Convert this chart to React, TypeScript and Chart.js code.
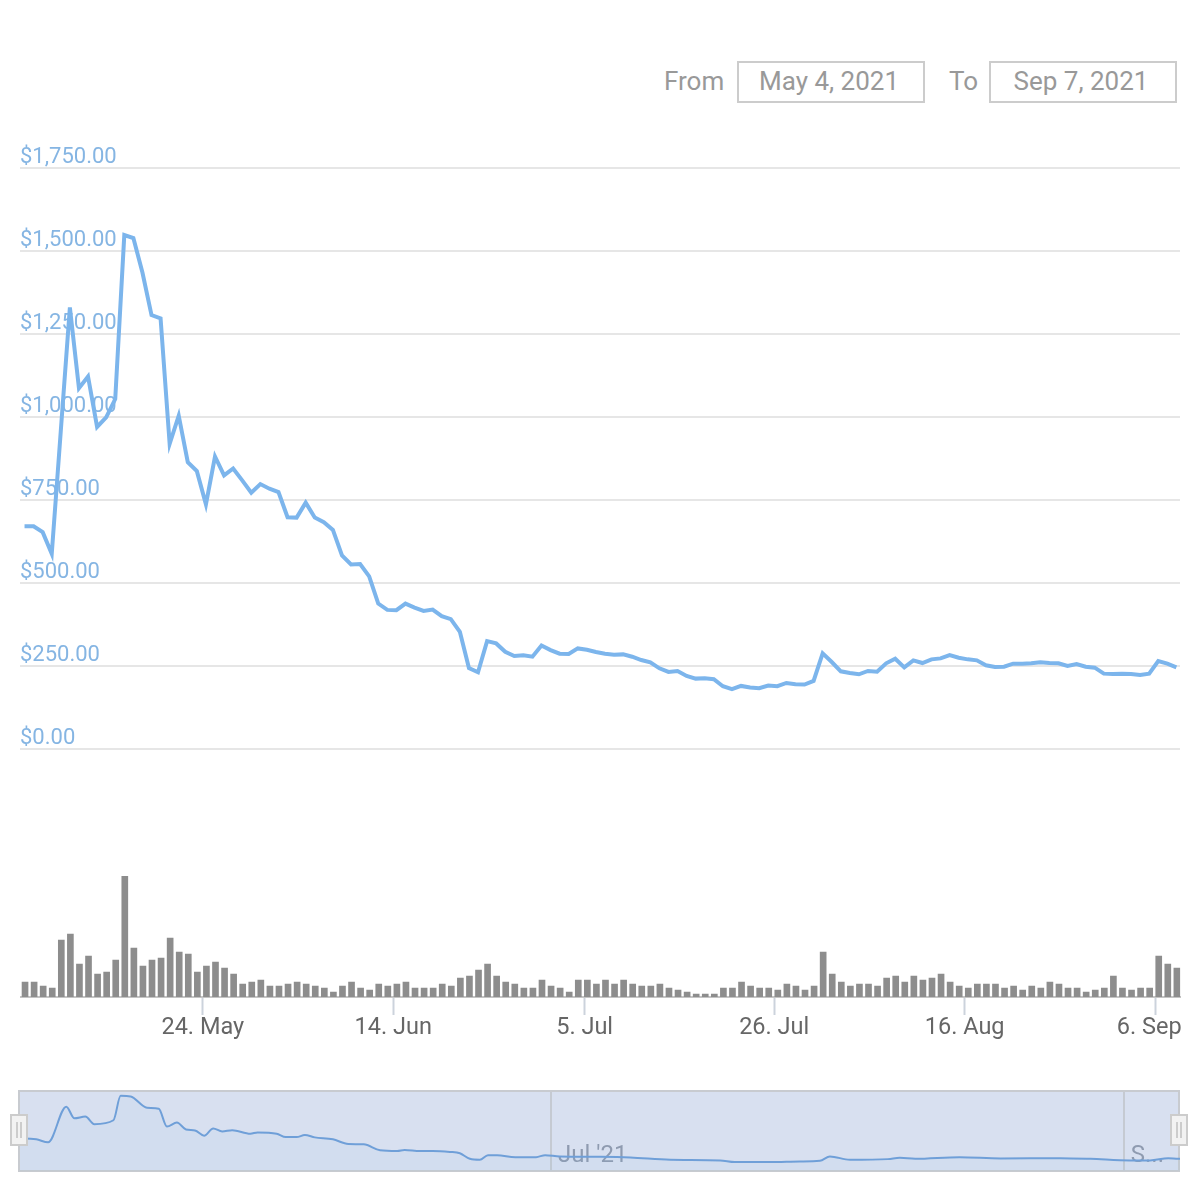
import { useEffect, useRef } from "react";
import { Chart, registerables } from "chart.js";

Chart.register(...registerables);

// daily price in USD
const prices = [
  671, 671, 653, 588, 959, 1330, 1087, 1122, 970, 999, 1054, 1548, 1539, 1435, 1307, 1297,
  919, 1004, 864, 837, 737, 881, 824, 845, 809, 772, 798, 784, 774, 698, 697, 742,
  697, 683, 660, 583, 556, 557, 520, 438, 419, 418, 438, 426, 416, 420, 400, 391,
  353, 244, 231, 325, 318, 293, 280, 282, 278, 312, 298, 287, 286, 303, 299, 292,
  287, 284, 285, 278, 268, 261, 243, 232, 235, 220, 212, 213, 210, 189, 180, 190,
  185, 183, 191, 189, 199, 195, 194, 205, 288, 262, 234, 229, 225, 235, 233, 258,
  272, 246, 267, 259, 270, 273, 283, 275, 270, 267, 252, 247, 248, 257, 257, 258,
  261, 259, 258, 250, 256, 248, 245, 227, 226, 227, 226, 223, 227, 265, 257, 246,
];

// volume has no axis in the picture, so these are relative units
const volumes = [
  15, 15, 11, 9, 57, 63, 33, 41, 23, 25, 37, 121, 49, 31, 37, 39,
  59, 45, 43, 25, 31, 35, 29, 23, 13, 15, 17, 11, 11, 13, 15, 13,
  11, 9, 5, 11, 15, 9, 7, 13, 11, 13, 15, 9, 9, 9, 13, 11,
  19, 21, 27, 33, 21, 15, 13, 9, 9, 17, 11, 9, 5, 17, 17, 13,
  17, 13, 17, 13, 11, 11, 13, 9, 7, 5, 3, 3, 3, 9, 9, 15,
  11, 9, 9, 7, 13, 11, 7, 11, 45, 23, 15, 11, 13, 13, 11, 19,
  21, 15, 21, 17, 19, 23, 15, 11, 9, 13, 13, 13, 9, 11, 7, 11,
  9, 15, 13, 9, 9, 5, 7, 9, 21, 9, 7, 9, 9, 41, 33, 29,
];

const priceTicks = [0, 250, 500, 750, 1000, 1250, 1500, 1750];

const dateTickDays = [19.6, 40.6, 61.7, 82.6, 103.6, 124.6];
const dateTickLabels = ["24. May", "14. Jun", "5. Jul", "26. Jul", "16. Aug", "6. Sep"];

// navigator series is grouped and smoother than the main line
const navDays = [
  -0.5, 0, 1.3, 2.6, 4.6, 5.5, 6.7, 7.7, 9.8, 10.6, 11.7, 13.5, 14.8, 15.7, 16.8, 17.8,
  18.8, 19.8, 20.8, 21.8, 22.9, 24.9, 25.7, 27.8, 28.8, 30, 30.9, 32, 34, 35.7, 37.4, 39.2,
  41.1, 41.9, 43.6, 45, 46.9, 48, 49.1, 50.2, 51.1, 52.1, 54.1, 56.4, 57.4, 59, 63.5, 66.8,
  71.2, 76.7, 78.3, 82.2, 85.5, 87.7, 88.8, 91, 95.2, 96.5, 98.2, 103.1, 107.6, 114.2, 117.5, 121.9,
  124.1, 126.1, 127.2, 127.4,
];
const navPrices = [
  673, 673, 653, 592, 1327, 1088, 1122, 965, 1047, 1551, 1537, 1306, 1286, 918, 1000, 857,
  837, 728, 877, 816, 843, 769, 796, 769, 700, 700, 741, 694, 653, 557, 551, 429,
  414, 435, 414, 414, 394, 367, 251, 231, 327, 327, 286, 286, 327, 300, 292, 279,
  231, 218, 184, 184, 198, 210, 300, 231, 245, 271, 251, 286, 259, 265, 251, 218,
  218, 265, 251, 251,
];
const navTickDays = [58.05, 121.2];
const navTickLabels = ["Jul '21", "S..."];

const fromDate = "May 4, 2021";
const toDate = "Sep 7, 2021";

const FONT = "Roboto, sans-serif";
const X_MIN = -0.5;
const X_MAX = 127.4;

function pickTicks(days: number[]) {
  return (scale: any) => {
    scale.ticks = days.map((value) => ({ value }));
  };
}

const dateBoxStyle: React.CSSProperties = {
  position: "absolute",
  top: 61,
  width: 180,
  height: 38,
  paddingRight: 4,
  border: "2px solid #ccc",
  color: "#999",
  font: `26px ${FONT}`,
  lineHeight: "36px",
  textAlign: "center",
};

const labelStyle: React.CSSProperties = {
  position: "absolute",
  top: 61,
  color: "#999",
  font: `26px ${FONT}`,
  lineHeight: "40px",
};

function Handle({ left }: { left: number }) {
  return (
    <div
      style={{
        position: "absolute",
        left,
        top: 1114,
        width: 14,
        height: 28,
        background: "#f2f2f2",
        border: "2px solid #ccc",
      }}
    >
      <div
        style={{
          position: "absolute",
          left: 4,
          top: 6,
          width: 2,
          height: 16,
          borderLeft: "2px solid #ccc",
          borderRight: "2px solid #ccc",
        }}
      />
    </div>
  );
}

export default function App() {
  const priceRef = useRef<HTMLCanvasElement>(null);
  const volumeRef = useRef<HTMLCanvasElement>(null);
  const navRef = useRef<HTMLCanvasElement>(null);

  useEffect(() => {
    if (!priceRef.current || !volumeRef.current || !navRef.current) return;

    const days = prices.map((_, i) => i);

    const priceChart = new Chart(priceRef.current, {
      type: "line",
      data: {
        labels: days,
        datasets: [
          {
            data: days.map((d) => ({ x: d, y: prices[d] })),
            borderColor: "#7cb5ec",
            borderWidth: 4,
            pointRadius: 0,
            tension: 0,
          },
        ],
      },
      options: {
        animation: false,
        responsive: false,
        devicePixelRatio: 1,
        layout: { padding: { left: 20, right: 20, top: 168, bottom: 451 } },
        plugins: { legend: { display: false }, tooltip: { enabled: false } },
        scales: {
          x: { type: "linear", display: false, min: X_MIN, max: X_MAX },
          y: {
            min: 0,
            max: 1750,
            afterBuildTicks: pickTicks(priceTicks),
            afterFit: (s: any) => {
              s.width = 0;
            },
            border: { display: false },
            grid: { color: "#e6e6e6", lineWidth: 2, drawTicks: false },
            ticks: {
              mirror: true,
              padding: 0,
              labelOffset: -10.5,
              color: "#85b5e3",
              font: { family: FONT, size: 22 },
              callback: (v: any) =>
                "$" + Number(v).toLocaleString("en-US", { minimumFractionDigits: 2 }),
            },
          },
        },
      },
    } as any);

    const volumeChart = new Chart(volumeRef.current, {
      type: "bar",
      data: {
        labels: days,
        datasets: [
          {
            data: days.map((d) => ({ x: d, y: volumes[d] })),
            backgroundColor: "#8d8d8d",
            barThickness: 6,
          },
        ],
      },
      options: {
        animation: false,
        responsive: false,
        devicePixelRatio: 1,
        layout: { padding: { left: 20.5, right: 19.5, top: 876, bottom: 0 } },
        plugins: { legend: { display: false }, tooltip: { enabled: false } },
        scales: {
          x: {
            type: "linear",
            min: X_MIN,
            max: X_MAX,
            offset: false,
            afterBuildTicks: pickTicks(dateTickDays),
            afterFit: (s: any) => {
              s.height = 203;
            },
            border: { color: "#c4c4c4", width: 2 },
            grid: {
              offset: false,
              drawOnChartArea: false,
              tickLength: 18,
              tickWidth: 2,
              tickColor: "#ccd3dc",
            },
            ticks: {
              maxRotation: 0,
              autoSkip: false,
              padding: -1,
              color: "#666",
              font: { family: FONT, size: 23.5 },
              // last label sits left of its tick so it stays inside the plot
              callback: (_: any, i: number) =>
                i === dateTickLabels.length - 1
                  ? dateTickLabels[i] + "\u00a0\u00a0"
                  : dateTickLabels[i],
            },
          },
          y: { display: false, min: 0, max: 121 },
        },
      },
    } as any);

    const navChart = new Chart(navRef.current, {
      type: "line",
      data: {
        labels: navDays,
        datasets: [
          {
            data: navDays.map((d, i) => ({ x: d, y: navPrices[i] })),
            borderColor: "#6f9fd8",
            borderWidth: 2,
            backgroundColor: "rgba(124, 181, 236, 0.06)",
            fill: "origin",
            pointRadius: 0,
            cubicInterpolationMode: "monotone",
          },
        ],
      },
      options: {
        animation: false,
        responsive: false,
        devicePixelRatio: 1,
        layout: { padding: { left: 20, right: 20, top: 1092, bottom: 0 } },
        plugins: { legend: { display: false }, tooltip: { enabled: false } },
        scales: {
          x: {
            type: "linear",
            min: X_MIN,
            max: X_MAX,
            afterBuildTicks: pickTicks(navTickDays),
            afterFit: (s: any) => {
              s.height = 29;
            },
            border: { display: false },
            grid: { color: "#c5cad2", lineWidth: 2, drawTicks: false },
            ticks: {
              // mirror keeps the labels from being clipped to the axis band
              mirror: true,
              align: "start",
              maxRotation: 0,
              autoSkip: false,
              padding: 1,
              labelOffset: 7,
              color: "#8f9bb0",
              font: { family: FONT, size: 24 },
              callback: (_: any, i: number) => navTickLabels[i],
            },
          },
          y: { display: false, min: 0, max: 1630 },
        },
      },
    } as any);

    return () => {
      priceChart.destroy();
      volumeChart.destroy();
      navChart.destroy();
    };
  }, []);

  const canvasStyle: React.CSSProperties = { position: "absolute", left: 0, top: 0 };

  return (
    <div
      style={{
        position: "absolute",
        left: 0,
        top: 0,
        width: 1200,
        height: 1200,
        background: "#fff",
        overflow: "hidden",
      }}
    >
      <div style={{ ...labelStyle, left: 664 }}>From</div>
      <div style={{ ...dateBoxStyle, left: 737 }}>{fromDate}</div>
      <div style={{ ...labelStyle, left: 949 }}>To</div>
      <div style={{ ...dateBoxStyle, left: 989 }}>{toDate}</div>

      <div
        style={{
          position: "absolute",
          left: 18,
          top: 1090,
          width: 1158,
          height: 78,
          background: "#d8e0f0",
          border: "2px solid #c8cbd0",
        }}
      />

      <canvas ref={priceRef} width={1200} height={1200} style={canvasStyle} />
      <canvas ref={volumeRef} width={1200} height={1200} style={canvasStyle} />
      <canvas ref={navRef} width={1200} height={1200} style={canvasStyle} />

      <Handle left={10} />
      <Handle left={1170} />
    </div>
  );
}
